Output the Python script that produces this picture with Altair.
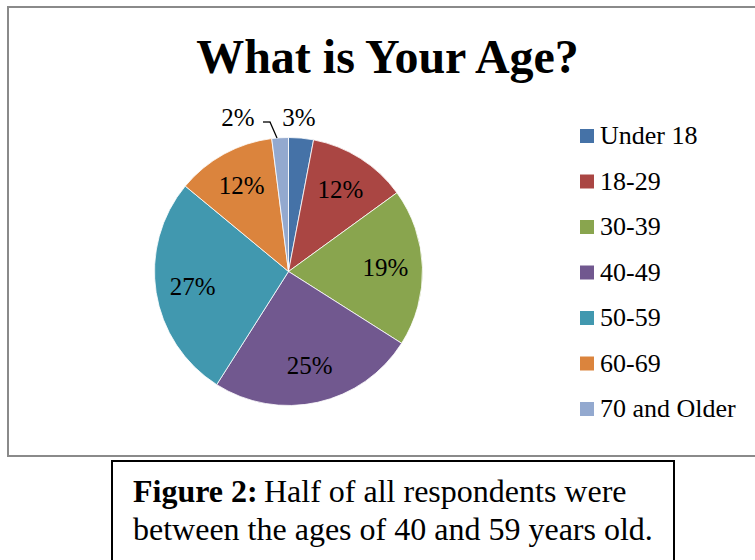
import altair as alt
import pandas as pd

# ---- data ----
categories = ["Under 18", "18-29", "30-39", "40-49", "50-59", "60-69", "70 and Older"]
percents = [3, 12, 19, 25, 27, 12, 2]
colors = ["#4572A7", "#AA4643", "#89A54E", "#71588F", "#4198AF", "#DB843D", "#93A9CF"]
title_text = "What is Your Age?"
caption_bold = "Figure 2:"
caption_line1 = "Half of all respondents were"
caption_line2 = "between the ages of 40 and 59 years old."

df = pd.DataFrame({
    "category": categories,
    "value": percents,
    "order": list(range(len(categories))),
})
df["label"] = [f"{v}%" for v in percents]

SERIF = "Liberation Serif"
CX, CY, R = 288.5, 271.5, 134

base = (
    alt.Chart(df)
    .transform_window(cum="sum(value)", sort=[alt.SortField("order")])
    .transform_calculate(start="datum.cum - datum.value", mid="datum.cum - datum.value / 2")
)

theta = alt.Theta("start:Q", scale=alt.Scale(domain=[0, 100]))
theta2 = alt.Theta2("cum:Q")
theta_mid = alt.Theta("mid:Q", scale=alt.Scale(domain=[0, 100]))

pie = base.mark_arc(radius=R, stroke="white", strokeWidth=0.8).encode(
    theta=theta,
    theta2=theta2,
    color=alt.Color(
        "category:N",
        scale=alt.Scale(domain=categories, range=colors),
        sort=categories,
        legend=alt.Legend(
            title=None,
            orient="none",
            legendX=574,
            legendY=123,
            padding=0,
            symbolType="square",
            symbolSize=196,
            symbolStrokeWidth=0,
            symbolOpacity=1,
            labelFont=SERIF,
            labelFontSize=26,
            labelColor="black",
            labelOffset=0,
            rowPadding=19.5,
            labelLimit=300,
        ),
    ),
    x=alt.value(CX),
    y=alt.value(CY),
)

text_kw = dict(font=SERIF, fontSize=25, color="black", align="center", baseline="middle")

inside = base.transform_filter("datum.value >= 5").mark_text(radius=97, **text_kw).encode(
    theta=theta_mid, text="label:N", x=alt.value(CX), y=alt.value(CY)
)
out3 = base.transform_filter("datum.category == 'Under 18'").mark_text(
    radius=154, dx=-4, **text_kw
).encode(theta=theta_mid, text="label:N", x=alt.value(CX), y=alt.value(CY))
out2 = base.transform_filter("datum.category == '70 and Older'").mark_text(
    radius=154, dx=-41, **text_kw
).encode(theta=theta_mid, text="label:N", x=alt.value(CX), y=alt.value(CY))

one = pd.DataFrame({"d": [0]})
leader1 = alt.Chart(one).mark_rule(color="black", strokeWidth=1.3).encode(
    x=alt.value(263), x2=alt.value(270.5), y=alt.value(122), y2=alt.value(122)
)
leader2 = alt.Chart(one).mark_rule(color="black", strokeWidth=1.3).encode(
    x=alt.value(270), x2=alt.value(277), y=alt.value(122), y2=alt.value(138)
)

outer = alt.Chart(one).mark_rect(fill=None, stroke="#8a8a8a", strokeWidth=2).encode(
    x=alt.value(8), x2=alt.value(780), y=alt.value(7), y2=alt.value(456)
)
capbox = alt.Chart(one).mark_rect(fill=None, stroke="black", strokeWidth=2).encode(
    x=alt.value(112), x2=alt.value(674), y=alt.value(461), y2=alt.value(600)
)

title = alt.Chart(pd.DataFrame({"t": [title_text]})).mark_text(
    font=SERIF, fontSize=48, fontWeight="bold", color="black", align="center", baseline="alphabetic"
).encode(text="t:N", x=alt.value(387.5), y=alt.value(73))

CAP = 32
cap_b = alt.Chart(pd.DataFrame({"t": [caption_bold]})).mark_text(
    font=SERIF, fontSize=CAP, fontWeight="bold", color="black", align="left", baseline="alphabetic"
).encode(text="t:N", x=alt.value(133), y=alt.value(502))
cap_1 = alt.Chart(pd.DataFrame({"t": [caption_line1]})).mark_text(
    font=SERIF, fontSize=CAP, color="black", align="left", baseline="alphabetic"
).encode(text="t:N", x=alt.value(264), y=alt.value(502))
cap_2 = alt.Chart(pd.DataFrame({"t": [caption_line2]})).mark_text(
    font=SERIF, fontSize=CAP, color="black", align="left", baseline="alphabetic"
).encode(text="t:N", x=alt.value(133), y=alt.value(540))

chart = (
    alt.layer(outer, capbox, pie, inside, out3, out2, leader1, leader2, title, cap_b, cap_1, cap_2)
    .properties(width=755, height=560, autosize=alt.AutoSizeParams(type="none"), padding=0,
                background="white")
    .configure_view(stroke=None)
    .configure_legend(labelFont=SERIF, labelFontSize=26, labelColor="black")
)

chart.save("out.html", embed_options={"renderer": "svg", "actions": False})
